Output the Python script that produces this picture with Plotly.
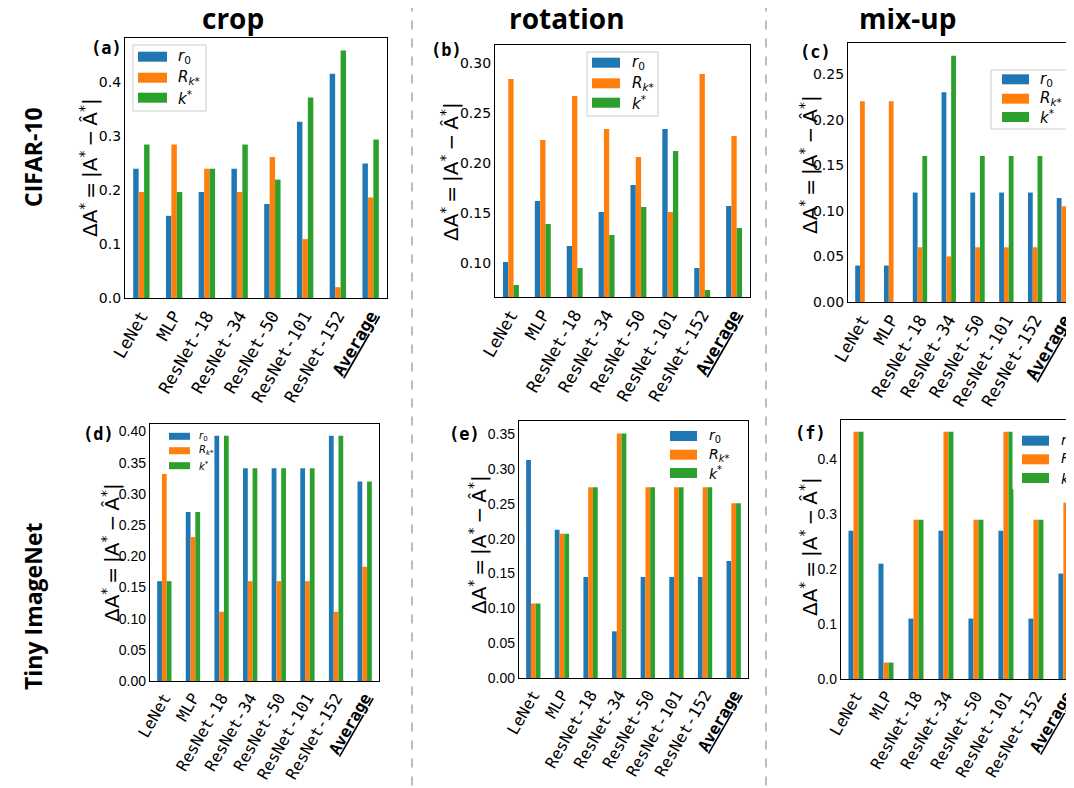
import plotly.graph_objects as go

# page body adds an 8px margin; figure is sized to fill the rest of the window
OFF = 8
W, H = 1066, 780

categories = ["LeNet", "MLP", "ResNet-18", "ResNet-34", "ResNet-50",
              "ResNet-101", "ResNet-152", "Average"]
tick_text = ["LeNet", "MLP", "ResNet-18", "ResNet-34", "ResNet-50",
             "ResNet-101", "ResNet-152", "<b><u>Average</u></b>"]
series_names = ["r0", "R_k*", "k*"]
series_labels = ["<i>r</i><sub>0</sub>", "<i>R</i><sub><i>k</i>*</sub>", "<i>k</i><sup>*</sup>"]
col_titles = ["crop", "rotation", "mix-up"]
row_titles = ["CIFAR-10", "Tiny ImageNet"]
panel_tags = ["(a)", "(b)", "(c)", "(d)", "(e)", "(f)"]

# (a) CIFAR-10 / crop
cifar_crop_r0 = [0.239, 0.152, 0.196, 0.239, 0.174, 0.326, 0.415, 0.249]
cifar_crop_Rk = [0.196, 0.284, 0.239, 0.196, 0.261, 0.109, 0.020, 0.186]
cifar_crop_k = [0.284, 0.196, 0.239, 0.284, 0.219, 0.371, 0.458, 0.293]
# (b) CIFAR-10 / rotation
cifar_rot_r0 = [0.101, 0.162, 0.117, 0.151, 0.178, 0.234, 0.095, 0.157]
cifar_rot_Rk = [0.284, 0.223, 0.267, 0.234, 0.206, 0.151, 0.289, 0.227]
cifar_rot_k = [0.078, 0.139, 0.095, 0.128, 0.156, 0.212, 0.073, 0.135]
# (c) CIFAR-10 / mix-up
cifar_mix_r0 = [0.04, 0.04, 0.12, 0.23, 0.12, 0.12, 0.12, 0.114]
cifar_mix_Rk = [0.22, 0.22, 0.06, 0.05, 0.06, 0.06, 0.06, 0.105]
cifar_mix_k = [0.0, 0.0, 0.16, 0.27, 0.16, 0.16, 0.16, 0.13]
# (d) Tiny ImageNet / crop
tiny_crop_r0 = [0.16, 0.271, 0.393, 0.341, 0.341, 0.341, 0.393, 0.32]
tiny_crop_Rk = [0.332, 0.231, 0.111, 0.16, 0.16, 0.16, 0.111, 0.183]
tiny_crop_k = [0.16, 0.271, 0.393, 0.341, 0.341, 0.341, 0.393, 0.32]
# (e) Tiny ImageNet / rotation
tiny_rot_r0 = [0.313, 0.213, 0.145, 0.067, 0.145, 0.145, 0.145, 0.168]
tiny_rot_Rk = [0.107, 0.207, 0.274, 0.351, 0.274, 0.274, 0.274, 0.251]
tiny_rot_k = [0.107, 0.207, 0.274, 0.351, 0.274, 0.274, 0.274, 0.251]
# (f) Tiny ImageNet / mix-up
tiny_mix_r0 = [0.27, 0.21, 0.11, 0.27, 0.11, 0.27, 0.11, 0.192]
tiny_mix_Rk = [0.45, 0.03, 0.29, 0.45, 0.29, 0.45, 0.29, 0.321]
tiny_mix_k = [0.45, 0.03, 0.29, 0.45, 0.29, 0.45, 0.29, 0.321]

panel_data = [
    (cifar_crop_r0, cifar_crop_Rk, cifar_crop_k),
    (cifar_rot_r0, cifar_rot_Rk, cifar_rot_k),
    (cifar_mix_r0, cifar_mix_Rk, cifar_mix_k),
    (tiny_crop_r0, tiny_crop_Rk, tiny_crop_k),
    (tiny_rot_r0, tiny_rot_Rk, tiny_rot_k),
    (tiny_mix_r0, tiny_mix_Rk, tiny_mix_k),
]

colors = ["#1f77b4", "#ff7f0e", "#2ca02c"]


def fx(p):
    return (p - OFF) / W


def fy(p):
    return 1 - (p - OFF) / H


# layout specs (screen pixels)
panels = [
    dict(dom=(125, 38, 387, 298), yr=(0, 0.481), tv=[0, 0.1, 0.2, 0.3, 0.4], fmt=".1f",
         xr=(-0.5, 7.5), mirror=True, tag=(106, 48), yt=(89, 168),
         leg=dict(frame=(133, 45, 206, 111), line="#cccccc", px=(138, 167), ph=10,
                  rows=[56.7, 77.7, 97.7], tx=176, fs=15)),
    dict(dom=(495, 45, 750, 297), yr=(0.066, 0.318), tv=[0.10, 0.15, 0.20, 0.25, 0.30], fmt=".2f",
         xr=(-0.5, 7.5), mirror=True, tag=(446, 50), yt=(450, 172),
         leg=dict(frame=(587, 52, 658, 116), line="#cccccc", px=(592, 620), ph=10,
                  rows=[62.7, 83.3, 102.7], tx=630, fs=15)),
    dict(dom=(848, 43, 1074, 302), yr=(0, 0.284), tv=[0, 0.05, 0.10, 0.15, 0.20, 0.25], fmt=".2f",
         xr=(-0.5, 7.35), mirror=False, tag=(815, 52), yt=(809, 165),
         leg=dict(frame=(991, 70, 1090, 129), line="#cccccc", px=(1002, 1029), ph=10,
                  rows=[79.3, 98.7, 117], tx=1038, fs=15)),
    dict(dom=(150, 424, 379, 681), yr=(0, 0.412), tv=[0, 0.05, 0.10, 0.15, 0.20, 0.25, 0.30, 0.35, 0.40],
         fmt=".2f", xr=(-0.5, 7.5), mirror=True, tag=(98, 434), yt=(111, 553),
         leg=dict(frame=None, line=None, px=(169, 190), ph=7,
                  rows=[436.3, 450.7, 465.7], tx=197, fs=10)),
    dict(dom=(519, 421, 748, 678), yr=(0, 0.369), tv=[0, 0.05, 0.10, 0.15, 0.20, 0.25, 0.30, 0.35],
         fmt=".2f", xr=(-0.5, 7.5), mirror=True, tag=(464, 434), yt=(478, 545),
         leg=dict(frame=None, line=None, px=(670, 697), ph=10,
                  rows=[436, 454.7, 473], tx=707, fs=14)),
    dict(dom=(841, 420, 1074, 679), yr=(0, 0.4715), tv=[0, 0.1, 0.2, 0.3, 0.4], fmt=".1f",
         xr=(-0.5, 7.27), mirror=False, tag=(810, 433), yt=(809, 547),
         leg=dict(frame=(1013, 425, 1090, 489), line="white", px=(1022, 1049), ph=10,
                  rows=[440.7, 459.3, 478], tx=1059, fs=14)),
]

fig = go.Figure()
layout = dict(
    width=W, height=H, margin=dict(l=0, r=0, t=0, b=0, autoexpand=False),
    paper_bgcolor="white", plot_bgcolor="white",
    barmode="group", bargap=0.5, bargroupgap=0.0,
    showlegend=False,
    font=dict(family="DejaVu Sans", color="black"),
)
shapes = []
annotations = []
ytitle = "ΔA<sup>*</sup>\u2009=\u2009|A<sup>*</sup>\u2009−\u2009Â<sup>*</sup>|"

for i, (spec, data) in enumerate(zip(panels, panel_data)):
    n = "" if i == 0 else str(i + 1)
    xa, ya = "x" + n, "y" + n
    for s in range(3):
        fig.add_trace(go.Bar(x=categories, y=data[s], name=series_names[s],
                             marker=dict(color=colors[s], line=dict(width=0)),
                             xaxis=xa, yaxis=ya))
    x0, y0, x1, y1 = spec["dom"]
    top_row = i < 3
    layout["xaxis" + n] = dict(
        domain=[fx(x0), min(1.0, fx(x1))], anchor=ya, type="category",
        categoryorder="array", categoryarray=categories,
        tickvals=categories, ticktext=tick_text, tickangle=-60,
        tickfont=dict(family="DejaVu Sans Mono", size=17 if top_row else 16, color="black"),
        range=list(spec["xr"]), showline=True, linecolor="black", linewidth=1.3,
        mirror=True, ticks="", showgrid=False, zeroline=False, fixedrange=True,
        automargin=False,
    )
    layout["yaxis" + n] = dict(
        domain=[fy(y1), fy(y0)], anchor=xa, range=list(spec["yr"]),
        tickvals=spec["tv"], tickformat=spec["fmt"],
        tickfont=dict(family="DejaVu Sans" if top_row else "Liberation Sans", size=14, color="black"),
        showline=True, linecolor="black", linewidth=1.3, mirror=spec["mirror"],
        ticks="", showgrid=False, zeroline=False, fixedrange=True,
        automargin=False,
    )
    # panel tag
    tx, ty = spec["tag"]
    annotations.append(dict(x=fx(tx), y=fy(ty), xref="paper", yref="paper",
                            text="<b>" + panel_tags[i] + "</b>", showarrow=False,
                            xanchor="center", yanchor="middle",
                            font=dict(family="DejaVu Sans Mono", size=17, color="black")))
    # y title
    yx, yy = spec["yt"]
    annotations.append(dict(x=fx(yx), y=fy(yy), xref="paper", yref="paper",
                            text=ytitle,
                            textangle=-90, showarrow=False, xanchor="center", yanchor="middle",
                            font=dict(family="DejaVu Sans", size=20, color="black")))
    # legend
    lg = spec["leg"]
    if lg["frame"] is not None:
        fx0, fy0, fx1, fy1 = lg["frame"]
        shapes.append(dict(type="rect", xref="paper", yref="paper",
                           x0=fx(fx0), x1=fx(fx1), y0=fy(fy1), y1=fy(fy0),
                           fillcolor="rgba(255,255,255,0.9)",
                           line=dict(color=lg["line"], width=1), layer="above"))
    for s in range(3):
        ry = lg["rows"][s]
        shapes.append(dict(type="rect", xref="paper", yref="paper",
                           x0=fx(lg["px"][0]), x1=fx(lg["px"][1]),
                           y0=fy(ry + lg["ph"] / 2), y1=fy(ry - lg["ph"] / 2),
                           fillcolor=colors[s], line=dict(width=0), layer="above"))
        annotations.append(dict(x=fx(lg["tx"]), y=fy(ry), xref="paper", yref="paper",
                                text=series_labels[s], showarrow=False,
                                xanchor="left", yanchor="middle",
                                font=dict(family="DejaVu Sans", size=lg["fs"], color="black")))

# column titles
for cx, t in zip([233, 567, 907], col_titles):
    annotations.append(dict(x=fx(cx), y=fy(18), xref="paper", yref="paper",
                            text="<b>" + t + "</b>", showarrow=False,
                            xanchor="center", yanchor="middle",
                            font=dict(family="Open Sans", size=28, color="black")))
# row titles
for cy, t in zip([157, 607], row_titles):
    annotations.append(dict(x=fx(33), y=fy(cy), xref="paper", yref="paper",
                            text="<b>" + t + "</b>", showarrow=False, textangle=-90,
                            xanchor="center", yanchor="middle",
                            font=dict(family="Open Sans", size=23, color="black")))
# dashed separators
for sx in [412, 766]:
    shapes.append(dict(type="line", xref="paper", yref="paper",
                       x0=fx(sx), x1=fx(sx), y0=-0.02, y1=1.02,
                       line=dict(color="#bbbbbb", width=2, dash="dash"), layer="below"))

layout["shapes"] = shapes
layout["annotations"] = annotations
fig.update_layout(**layout)
fig.write_html("out.html")
